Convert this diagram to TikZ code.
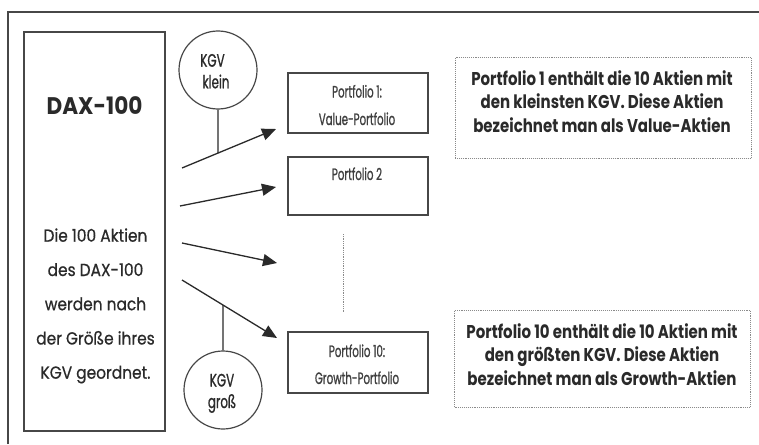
\documentclass[tikz,border=0pt]{standalone}
\usepackage{fontspec}
\setmainfont{Poppins}
\newfontfamily\daxfont[FakeStretch=0.9]{Poppins}
\newfontfamily\descfont[FakeStretch=0.88,FakeBold=0.6]{Poppins}
\newfontfamily\notefont[FakeStretch=0.81]{Poppins}
\newfontfamily\pfont[FakeStretch=0.62,FakeBold=0.9]{Poppins}
\newfontfamily\cfont[FakeStretch=0.66,FakeBold=0.9]{Poppins}
\usetikzlibrary{arrows.meta}
\definecolor{ink}{HTML}{2A2A2A}
\definecolor{frame}{HTML}{474747}
\definecolor{dotc}{HTML}{8A8A8A}
\begin{document}
\begin{tikzpicture}[x=1pt,y=-1pt,
  box/.style={draw=frame,line width=1.3pt,rectangle,inner sep=0pt,minimum width=140pt},
  circ/.style={draw=frame,line width=1.2pt,circle,minimum size=78pt,inner sep=0pt},
  note/.style={draw=dotc,densely dotted,line width=0.9pt,rectangle,inner sep=0pt},
  lbl/.style={anchor=base,inner sep=0pt,text=ink},
  desc/.style={lbl,font=\descfont\fontsize{17.5}{20}\selectfont},
  ptxt/.style={lbl,font=\pfont\fontsize{16.5}{18}\selectfont,text=ink!90},
  ctxt/.style={lbl,font=\cfont\fontsize{18}{20}\selectfont},
  ntxt/.style={lbl,font=\notefont\bfseries\fontsize{18.5}{20}\selectfont},
  conn/.style={draw=ink,line width=1.3pt},
  arr/.style={conn,-{Triangle[length=14pt,width=12pt]}}]
\useasboundingbox (0,0) rectangle (759,444);
\fill[white] (0,0) rectangle (759,444);
% outer frame
\coordinate (fl) at (8,444);
\coordinate (ftl) at (8,12);
\coordinate (ftr) at (759,12);
\draw[frame,line width=1.6pt] (fl) -- (ftl) -- (ftr);
% DAX box
\node[box,minimum width=141pt,minimum height=399pt] (dax) at (94.5,231.5) {};
\node[lbl,font=\daxfont\bfseries\fontsize{24}{26}\selectfont] (daxt) at (94.5,114) {DAX-100};
\node[desc] (d1) at (95.5,241.7) {Die 100 Aktien};
\node[desc] (d2) at (95.5,276) {des DAX-100};
\node[desc] (d3) at (95.5,310.2) {werden nach};
\node[desc] (d4) at (95.5,344.5) {der Größe ihres};
\node[desc] (d5) at (95.5,378.7) {KGV geordnet.};
% circles
\node[circ] (klein) at (218,70) {};
\node[ctxt] (k1) at (212.5,66.7) {KGV};
\node[ctxt] (k2) at (216,88.3) {klein};
\node[circ] (gross) at (223,390) {};
\node[ctxt] (g1) at (222,386.5) {KGV};
\node[ctxt] (g2) at (222,408) {groß};
% portfolio boxes
\node[box,minimum height=60pt] (p1) at (358,103) {};
\node[ptxt] (p1a) at (357,97.5) {Portfolio 1:};
\node[ptxt] (p1b) at (357,125) {Value-Portfolio};
\node[box,minimum height=58pt] (p2) at (358,186) {};
\node[ptxt] (p2a) at (357,180) {Portfolio 2};
\node[box,minimum height=61pt] (p10) at (358,362.5) {};
\node[ptxt] (p10a) at (357,357) {Portfolio 10:};
\node[ptxt] (p10b) at (357,384) {Growth-Portfolio};
% notes
\node[note,minimum width=296pt,minimum height=101pt] (n1) at (603,107.8) {};
\node[ntxt] (n1a) at (602,85) {Portfolio 1 enthält die 10 Aktien mit};
\node[ntxt] (n1b) at (602,108.5) {den kleinsten KGV. Diese Aktien};
\node[ntxt] (n1c) at (602,132) {bezeichnet man als Value-Aktien};
\node[note,minimum width=296pt,minimum height=97pt] (n2) at (602.5,358.5) {};
\node[ntxt] (n2a) at (602,338) {Portfolio 10 enthält die 10 Aktien mit};
\node[ntxt] (n2b) at (602,361.5) {den größten KGV. Diese Aktien};
\node[ntxt] (n2c) at (602,385) {bezeichnet man als Growth-Aktien};
% arrows
\coordinate (a1s) at (182,168); \coordinate (a1e) at (276,129);
\coordinate (a2s) at (180,206); \coordinate (a2e) at (276,187);
\coordinate (a3s) at (182,243); \coordinate (a3e) at (277,263);
\coordinate (a4s) at (182,280); \coordinate (a4e) at (277,338);
\draw[arr] (a1s) -- (a1e);
\draw[arr] (a2s) -- (a2e);
\draw[arr] (a3s) -- (a3e);
\draw[arr] (a4s) -- (a4e);
\path (a1s) -- (a1e) coordinate[pos=0.383] (m1);
\path (a4s) -- (a4e) coordinate[pos=0.432] (m4);
\draw[conn,line width=1.1pt] (klein.south) -- (m1);
\draw[conn,line width=1.1pt] (m4) -- (gross.north);
% dotted continuation
\coordinate (dt1) at (343,234); \coordinate (dt2) at (343,312);
\draw[dotc,densely dotted,line width=0.8pt] (dt1) -- (dt2);
\end{tikzpicture}
\end{document}
